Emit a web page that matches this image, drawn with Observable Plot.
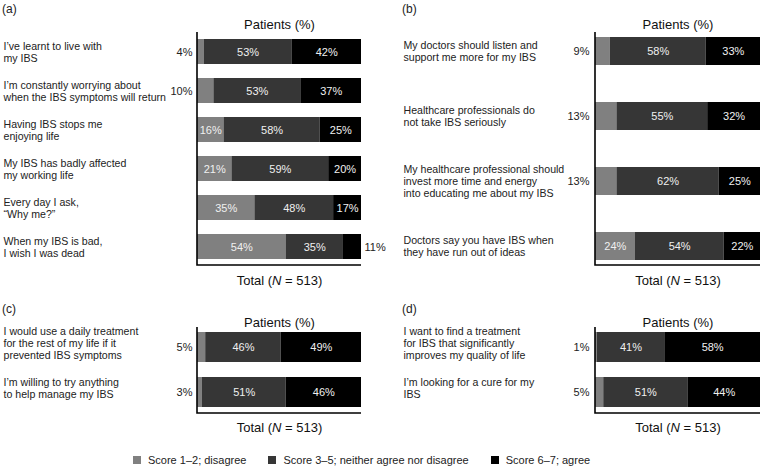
<!DOCTYPE html>
<html><head><meta charset="utf-8">
<script src="https://cdn.jsdelivr.net/npm/d3@7"></script>
<script src="https://cdn.jsdelivr.net/npm/@observablehq/plot@0.6"></script>
<style>
body{margin:0;background:#fff;font-family:"Liberation Sans",Arial,sans-serif;}
#root{position:relative;width:760px;height:468px;overflow:hidden;background:#fff;}
.panel{position:absolute;}
.tag{position:absolute;font-size:12px;color:#222;line-height:14px;}
#legend{position:absolute;left:133px;top:454px;}
div.lg-swatches{min-height:0 !important;margin:0 !important;font-size:11px;font-family:"Liberation Sans",Arial,sans-serif;color:#222;}
div.lg-swatches .lg-swatch{margin-right:22px !important;}
div.lg-swatches .lg-swatch svg{margin-right:7px !important;}
</style></head><body><div id="root"></div>
<script>
const categories = ["Score 1–2; disagree", "Score 3–5; neither agree nor disagree", "Score 6–7; agree"];
const colors = ["#808080", "#363636", "#000000"];
const xLabelTop = "Patients (%)";
const xLabelBottom = "Total (N = 513)";

const questionsA = [
  "I’ve learnt to live with\nmy IBS",
  "I’m constantly worrying about\nwhen the IBS symptoms will return",
  "Having IBS stops me\nenjoying life",
  "My IBS has badly affected\nmy working life",
  "Every day I ask,\n“Why me?”",
  "When my IBS is bad,\nI wish I was dead"
];
const disagreeA = [4, 10, 16, 21, 35, 54];
const neutralA = [53, 53, 58, 59, 48, 35];
const agreeA = [42, 37, 25, 20, 17, 11];

const questionsB = [
  "My doctors should listen and\nsupport me more for my IBS",
  "Healthcare professionals do\nnot take IBS seriously",
  "My healthcare professional should\ninvest more time and energy\ninto educating me about my IBS",
  "Doctors say you have IBS when\nthey have run out of ideas"
];
const disagreeB = [9, 13, 13, 24];
const neutralB = [58, 55, 62, 54];
const agreeB = [33, 32, 25, 22];

const questionsC = [
  "I would use a daily treatment\nfor the rest of my life if it\nprevented IBS symptoms",
  "I’m willing to try anything\nto help manage my IBS"
];
const disagreeC = [5, 3];
const neutralC = [46, 51];
const agreeC = [49, 46];

const questionsD = [
  "I want to find a treatment\nfor IBS that significantly\nimproves my quality of life",
  "I’m looking for a cure for my\nIBS"
];
const disagreeD = [1, 5];
const neutralD = [41, 51];
const agreeD = [58, 44];

const FONT = "'Liberation Sans', Arial, sans-serif";

function table(questions, d, n, a) {
  return questions.flatMap((q, i) => [
    {q, cat: categories[0], value: d[i]},
    {q, cat: categories[1], value: n[i]},
    {q, cat: categories[2], value: a[i]}
  ]);
}

function lAxis() {
  return (index, scales, values, dim) => {
    const {width, height, marginLeft, marginRight, marginTop, marginBottom} = dim;
    const p = document.createElementNS("http://www.w3.org/2000/svg", "path");
    p.setAttribute("fill", "none");
    p.setAttribute("stroke", "#000");
    p.setAttribute("stroke-width", "1.6");
    p.setAttribute("d", `M${marginLeft},${marginTop}V${height - marginBottom}H${width - marginRight}`);
    return p;
  };
}

function panel(o) {
  const data = table(o.questions, o.d, o.n, o.a);
  const outL = r => r.cat === categories[0] && r.value < 15;
  const outR = r => r.cat === categories[2] && r.value < 15;
  const svg = Plot.plot({
    width: o.width, height: o.height,
    marginTop: o.mt, marginBottom: o.mb, marginLeft: o.ml, marginRight: o.mr,
    style: {fontFamily: FONT, fontSize: "11px", overflow: "visible", background: "transparent", color: "#222"},
    x: {axis: null, domain: [0, 1]},
    y: {axis: null, domain: o.questions, paddingInner: o.pi, paddingOuter: o.po},
    color: {domain: categories, range: colors},
    marks: [
      Plot.barX(data, Plot.stackX({x: "value", y: "q", fill: "cat", offset: "normalize"})),
      Plot.text(data, Plot.stackX({x: "value", y: "q", offset: "normalize",
        text: r => (outL(r) || outR(r)) ? null : r.value + "%", fill: "#f0f0f0", fontSize: 11})),
      Plot.text(data.filter(outL), {y: "q", text: r => r.value + "%", frameAnchor: "left", textAnchor: "end", dx: o.odx, fill: "#222"}),
      Plot.text(data.filter(outR), {y: "q", text: r => r.value + "%", frameAnchor: "right", textAnchor: "start", dx: 3, fill: "#222"}),
      Plot.text(o.questions, {y: q => q, text: q => q, frameAnchor: "left", textAnchor: "start", dx: o.lx - o.ml, lineHeight: 1.14, fontSize: 10.6, fill: "#222", dy: o.ldy || 0}),
      Plot.text([xLabelTop], {text: t => t, frameAnchor: "top", lineAnchor: "middle", dy: o.tdy, fontSize: 13, fill: "#111"}),
      Plot.text([xLabelBottom], {text: t => t, frameAnchor: "bottom", lineAnchor: "middle", dy: o.bdy, fontSize: 13, fill: "#111"}),
      lAxis()
    ]
  });
  d3.select(svg).selectAll("text").filter(function () { return this.textContent === xLabelBottom; })
    .each(function () {
      const t = d3.select(this);
      t.text(null);
      t.append("tspan").text("Total (");
      t.append("tspan").attr("font-style", "italic").text("N");
      t.append("tspan").text(" = 513)");
    });
  const wrap = document.createElement("div");
  wrap.className = "panel";
  wrap.style.left = o.left + "px";
  wrap.style.top = o.top + "px";
  wrap.appendChild(svg);
  return wrap;
}

const root = document.getElementById("root");

root.appendChild(panel({questions: questionsA, d: disagreeA, n: neutralA, a: agreeA,
  left: 0, top: 0, width: 380, height: 300, mt: 32, mb: 35, ml: 197, mr: 19,
  pi: 0.365, po: 0.13, lx: 3, odx: -5, tdy: -8, bdy: 15}));
root.appendChild(panel({questions: questionsB, d: disagreeB, n: neutralB, a: agreeB,
  left: 380, top: 0, width: 380, height: 300, mt: 32, mb: 35, ml: 215, mr: 0,
  pi: 0.575, po: 0.077, lx: 23, odx: -6, tdy: -8, bdy: 15}));
root.appendChild(panel({questions: questionsC, d: disagreeC, n: neutralC, a: agreeC,
  left: 0, top: 300, width: 380, height: 135, mt: 27, mb: 22, ml: 197, mr: 19,
  pi: 0.333, po: 0.111, lx: 3, odx: -5, tdy: -5, bdy: 14, ldy: -4}));
root.appendChild(panel({questions: questionsD, d: disagreeD, n: neutralD, a: agreeD,
  left: 380, top: 300, width: 380, height: 135, mt: 27, mb: 22, ml: 215, mr: 0,
  pi: 0.333, po: 0.111, lx: 23, odx: -6, tdy: -5, bdy: 14, ldy: -4}));

const tags = [["(a)", 2, 2], ["(b)", 402, 2], ["(c)", 2, 302], ["(d)", 402, 302]];
for (const [t, x, y] of tags) {
  const el = document.createElement("div");
  el.className = "tag";
  el.style.left = x + "px";
  el.style.top = y + "px";
  el.textContent = t;
  root.appendChild(el);
}

const legendWrap = document.createElement("div");
legendWrap.id = "legend";
legendWrap.appendChild(Plot.legend({
  color: {domain: categories, range: colors},
  swatchSize: 8,
  className: "lg",
  style: {fontFamily: FONT, fontSize: "11px"}
}));
root.appendChild(legendWrap);
</script></body></html>
